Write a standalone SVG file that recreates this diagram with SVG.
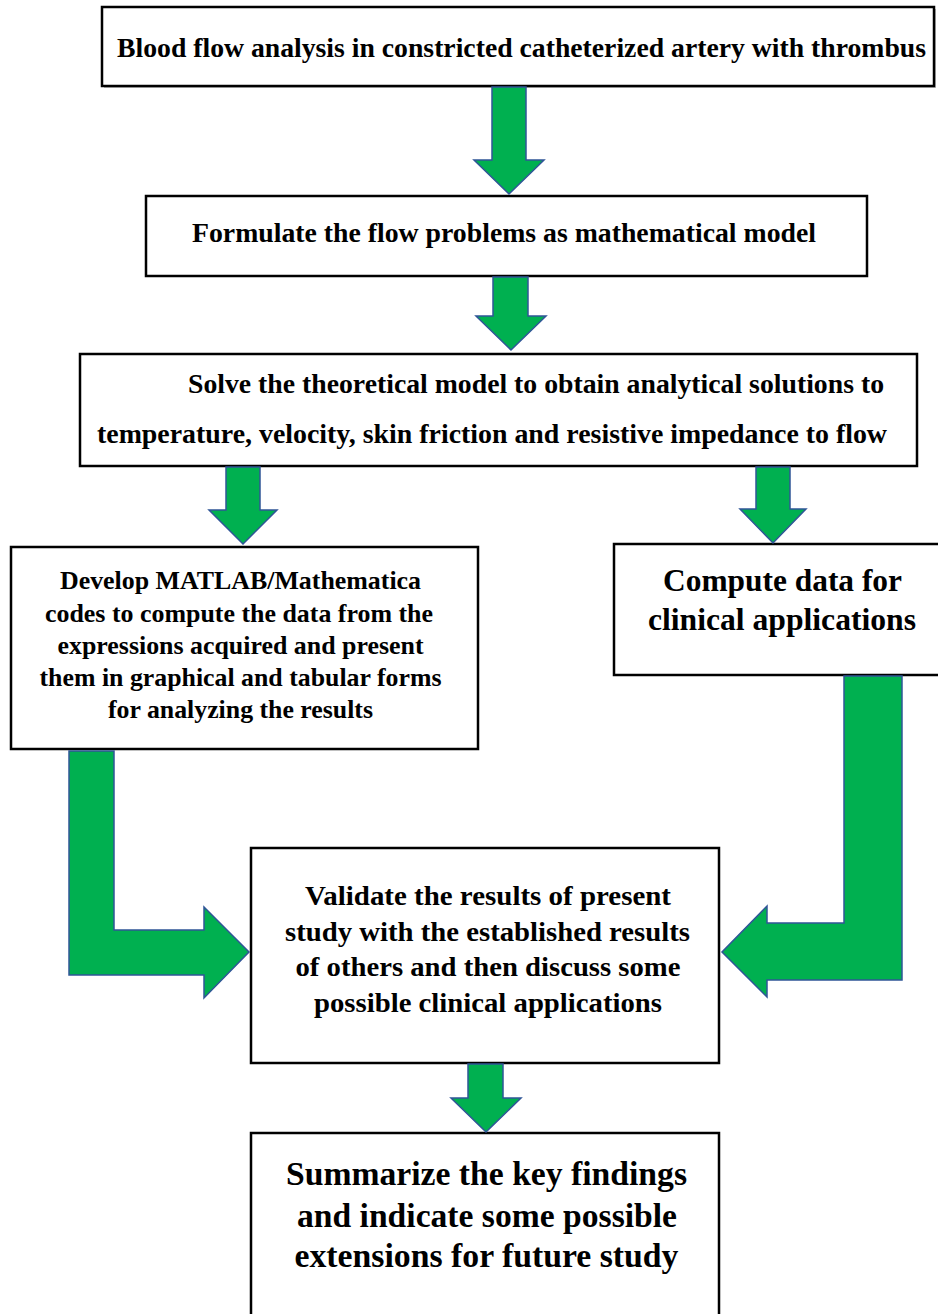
<svg xmlns="http://www.w3.org/2000/svg" width="938" height="1314" viewBox="0 0 938 1314">
<style>
.box{fill:#ffffff;stroke:#000000;stroke-width:2.5}
.t{font-family:"Liberation Serif","Times New Roman",serif;font-weight:bold;fill:#000000;text-anchor:middle}
.arr{fill:#00B050;stroke:#2F5597;stroke-width:1.5;stroke-linejoin:miter}
</style>
<rect width="938" height="1314" fill="#ffffff"/>
<g id="node1">
<rect x="104" y="9" width="832" height="79" fill="#bfbfbf"/>
<rect class="box" x="102" y="7" width="832" height="79"/>
<text class="t" x="521.5" y="57" font-size="27.7" textLength="809" lengthAdjust="spacingAndGlyphs">Blood flow analysis in constricted catheterized artery with thrombus</text>
</g>
<g id="node2">
<rect class="box" x="146" y="196" width="721" height="80"/>
<text class="t" x="504" y="242" font-size="27.7" textLength="624" lengthAdjust="spacingAndGlyphs">Formulate the flow problems as mathematical model</text>
</g>
<g id="node3">
<rect class="box" x="80" y="354" width="837" height="112"/>
<text class="t" x="536" y="393" font-size="27.7" textLength="696" lengthAdjust="spacingAndGlyphs">Solve the theoretical model to obtain analytical solutions to</text>
<text class="t" x="492" y="443" font-size="27.7" textLength="790" lengthAdjust="spacingAndGlyphs">temperature, velocity, skin friction and resistive impedance to flow</text>
</g>
<g id="node4">
<rect class="box" x="11" y="547" width="467" height="202"/>
<g font-size="25.7">
<text class="t" x="240.5" y="589" textLength="361" lengthAdjust="spacingAndGlyphs">Develop MATLAB/Mathematica</text>
<text class="t" x="239" y="621.5" textLength="388" lengthAdjust="spacingAndGlyphs">codes to compute the data from the</text>
<text class="t" x="240.5" y="654" textLength="366" lengthAdjust="spacingAndGlyphs">expressions acquired and present</text>
<text class="t" x="240.5" y="686" textLength="402" lengthAdjust="spacingAndGlyphs">them in graphical and tabular forms</text>
<text class="t" x="240.5" y="718" textLength="265" lengthAdjust="spacingAndGlyphs">for analyzing the results</text>
</g>
</g>
<g id="node5">
<rect class="box" x="614" y="544" width="330" height="131"/>
<g font-size="31.4">
<text class="t" x="782.5" y="591" textLength="239" lengthAdjust="spacingAndGlyphs">Compute data for</text>
<text class="t" x="782" y="629.5" textLength="268" lengthAdjust="spacingAndGlyphs">clinical applications</text>
</g>
</g>
<g id="node6">
<rect class="box" x="251" y="848" width="468" height="215"/>
<g font-size="28">
<text class="t" x="488" y="905" textLength="366" lengthAdjust="spacingAndGlyphs">Validate the results of present</text>
<text class="t" x="487.5" y="940.5" textLength="405" lengthAdjust="spacingAndGlyphs">study with the established results</text>
<text class="t" x="488" y="976" textLength="385" lengthAdjust="spacingAndGlyphs">of others and then discuss some</text>
<text class="t" x="488" y="1011.5" textLength="348" lengthAdjust="spacingAndGlyphs">possible clinical applications</text>
</g>
</g>
<g id="node7">
<rect class="box" x="251" y="1133" width="468" height="200"/>
<g font-size="33.5">
<text class="t" x="486.5" y="1185" textLength="401" lengthAdjust="spacingAndGlyphs">Summarize the key findings</text>
<text class="t" x="487" y="1227" textLength="380" lengthAdjust="spacingAndGlyphs">and indicate some possible</text>
<text class="t" x="486.5" y="1267" textLength="384" lengthAdjust="spacingAndGlyphs">extensions for future study</text>
</g>
</g>
<g id="connectors">
<polygon class="arr" points="492,87 526,87 526,160 544,160 509,194 474,160 492,160"/>
<polygon class="arr" points="493,277 528,277 528,316 546,316 511,350 476,316 493,316"/>
<polygon class="arr" points="226,467 260,467 260,510 277,510 243,544 209,510 226,510"/>
<polygon class="arr" points="756,467 790,467 790,509 806,509 773,543 740,509 756,509"/>
<polygon class="arr" points="468,1064 503,1064 503,1098 521,1098 486,1132 451,1098 468,1098"/>
<polygon class="arr" points="69,751 114,751 114,930 204,930 204,907 249,952 204,998 204,975 69,975"/>
<polygon class="arr" points="844,676 902,676 902,980 767,980 767,997 722,952 767,906 767,923 844,923"/>
</g>
</svg>
